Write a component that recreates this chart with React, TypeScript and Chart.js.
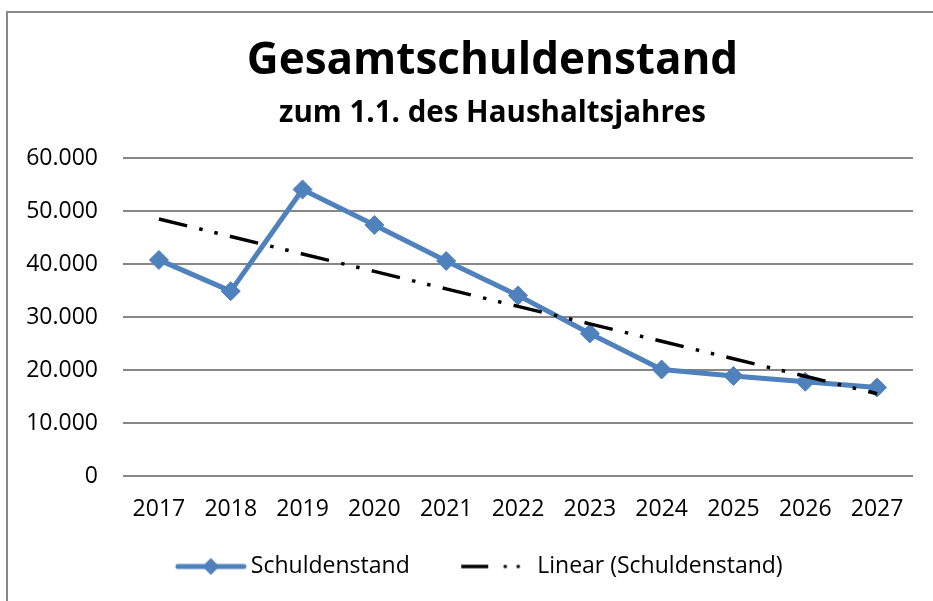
import React, { useEffect, useRef } from 'react';
import { Chart, registerables } from 'chart.js';

Chart.register(...registerables);

// ---- data ----
const years = ['2017', '2018', '2019', '2020', '2021', '2022', '2023', '2024', '2025', '2026', '2027'];
const schuldenstand = [40800, 34900, 54100, 47400, 40600, 34100, 26900, 20100, 18900, 17800, 16700];
const yMin = 0;
const yMax = 60000;
const yStep = 10000;
const chartTitle = 'Gesamtschuldenstand';
const chartSubtitle = 'zum 1.1. des Haushaltsjahres';
const seriesName = 'Schuldenstand';
const trendName = 'Linear (Schuldenstand)';

// ---- styles ----
const BLUE = '#4F81BD';
const GRID = '#878787';
const FONT = "'Open Sans', 'Noto Sans', sans-serif";
const TICK_FONT = 23;
const LEGEND_FONT = 23;
const POINT_W = 85;
const SYMBOL_LEN = 71;
const TEXT_GAP = 5;
const TITLE_SHIFT = 36;
const LEGEND_SHIFT = 12;

function linearTrend(values: number[]): number[] {
  const n = values.length;
  const mx = (n - 1) / 2;
  const my = values.reduce((a, b) => a + b, 0) / n;
  let sxy = 0;
  let sxx = 0;
  values.forEach((v, i) => {
    sxy += (i - mx) * (v - my);
    sxx += (i - mx) * (i - mx);
  });
  const slope = sxy / sxx;
  return values.map((_, i) => my + slope * (i - mx));
}

const formatDe = (v: number) => String(Math.round(v)).replace(/\B(?=(\d{3})+(?!\d))/g, '.');

function makeSymbol(kind: 'series' | 'trend'): HTMLCanvasElement {
  // symbol image is drawn centered at (text start - cOff)
  const cOff = LEGEND_FONT / 2 + POINT_W / 2;
  const s = cOff - (SYMBOL_LEN + TEXT_GAP);
  const e = cOff - TEXT_GAP;
  const halfW = Math.ceil(Math.max(Math.abs(s), Math.abs(e)) + 2);
  const w = halfW * 2;
  const h = 24;
  const x0 = halfW + s;
  const c = document.createElement('canvas');
  c.width = w;
  c.height = h;
  const ctx = c.getContext('2d')!;
  const y = h / 2;
  if (kind === 'series') {
    ctx.strokeStyle = BLUE;
    ctx.lineWidth = 5;
    ctx.lineCap = 'round';
    ctx.beginPath();
    ctx.moveTo(x0 + 3, y);
    ctx.lineTo(x0 + SYMBOL_LEN - 2, y);
    ctx.stroke();
    const cx = x0 + 36;
    const r = 8.5;
    ctx.fillStyle = BLUE;
    ctx.beginPath();
    ctx.moveTo(cx, y - r);
    ctx.lineTo(cx + r, y);
    ctx.lineTo(cx, y + r);
    ctx.lineTo(cx - r, y);
    ctx.closePath();
    ctx.fill();
  } else {
    ctx.fillStyle = '#000';
    ctx.fillRect(x0, y - 1.75, 27, 3.5);
    ctx.beginPath();
    ctx.arc(x0 + 44, y, 1.8, 0, Math.PI * 2);
    ctx.fill();
    ctx.beginPath();
    ctx.arc(x0 + 57, y, 1.8, 0, Math.PI * 2);
    ctx.fill();
  }
  return c;
}

const shiftPlugin = {
  id: 'shiftBlocks',
  afterLayout(chart: any) {
    chart.boxes.forEach((b: any) => {
      if (b.axis) return;
      if (b === chart.legend) {
        b.left += LEGEND_SHIFT;
        b.right += LEGEND_SHIFT;
      } else if (b.position === 'top') {
        b.left += TITLE_SHIFT;
        b.right += TITLE_SHIFT;
      }
    });
  },
};

export default function App() {
  const canvasRef = useRef<HTMLCanvasElement | null>(null);

  useEffect(() => {
    if (!canvasRef.current) return;
    const trend = linearTrend(schuldenstand);
    const sym1 = makeSymbol('series');
    const sym2 = makeSymbol('trend');

    const chart = new Chart(canvasRef.current, {
      type: 'line',
      data: {
        labels: years,
        datasets: [
          {
            label: seriesName,
            data: schuldenstand,
            borderColor: BLUE,
            backgroundColor: BLUE,
            borderWidth: 5,
            borderJoinStyle: 'round',
            pointStyle: 'rectRot',
            pointRadius: 9.5,
            pointBorderWidth: 1,
            pointBackgroundColor: BLUE,
            pointBorderColor: BLUE,
            tension: 0,
            fill: false,
            order: 2,
          },
          {
            label: trendName,
            data: trend,
            borderColor: '#000',
            borderWidth: 3.5,
            borderDash: [29, 12.5, 3.5, 12, 3.5, 12.5],
            pointRadius: 0,
            tension: 0,
            fill: false,
            order: 1,
          },
        ],
      },
      plugins: [shiftPlugin],
      options: {
        responsive: false,
        animation: false,
        devicePixelRatio: 1,
        layout: { padding: { left: 0, right: 20, top: 0, bottom: 13 } },
        scales: {
          x: {
            offset: true,
            grid: { display: false, drawTicks: false },
            border: { display: false },
            ticks: {
              color: '#000',
              font: { family: FONT, size: TICK_FONT },
              padding: 20,
              maxRotation: 0,
              autoSkip: false,
            },
            afterFit: (s: any) => {
              s.height = 48;
            },
          },
          y: {
            min: yMin,
            max: yMax,
            grid: { color: GRID, lineWidth: 2, drawTicks: false },
            border: { display: false },
            ticks: {
              stepSize: yStep,
              padding: 25,
              color: '#000',
              font: { family: FONT, size: TICK_FONT },
              callback: (v: any) => formatDe(Number(v)),
            },
            afterFit: (s: any) => {
              s.width = 123;
            },
          },
        },
        plugins: {
          title: {
            display: true,
            text: chartTitle,
            color: '#000',
            font: { family: FONT, size: 44, weight: 'bold' },
            padding: { top: 35, bottom: 0 },
          },
          subtitle: {
            display: true,
            text: chartSubtitle,
            color: '#000',
            font: { family: FONT, size: 29.5, weight: 'bold' },
            padding: { top: 8, bottom: 27 },
          },
          legend: {
            position: 'bottom',
            labels: {
              usePointStyle: true,
              pointStyleWidth: POINT_W,
              padding: 31,
              color: '#000',
              font: { family: FONT, size: LEGEND_FONT },
              generateLabels: () => [
                {
                  text: seriesName,
                  pointStyle: sym1,
                  fillStyle: BLUE,
                  strokeStyle: BLUE,
                  lineWidth: 0,
                  hidden: false,
                  datasetIndex: 0,
                  fontColor: '#000',
                },
                {
                  text: trendName,
                  pointStyle: sym2,
                  fillStyle: '#000',
                  strokeStyle: '#000',
                  lineWidth: 0,
                  hidden: false,
                  datasetIndex: 1,
                  fontColor: '#000',
                },
              ],
            },
          },
          tooltip: { enabled: false },
        },
      } as any,
    });
    return () => chart.destroy();
  }, []);

  return (
    <div
      style={{
        position: 'fixed',
        left: 0,
        top: 0,
        width: 933,
        height: 601,
        overflow: 'hidden',
        background: '#fff',
      }}
    >
      <div
        style={{
          position: 'absolute',
          left: 6,
          top: 11,
          width: 1000,
          height: 700,
          border: '2px solid #898989',
          boxSizing: 'border-box',
        }}
      />
      <canvas
        ref={canvasRef}
        width={933}
        height={601}
        style={{ position: 'absolute', left: 0, top: 0, display: 'block' }}
      />
    </div>
  );
}
